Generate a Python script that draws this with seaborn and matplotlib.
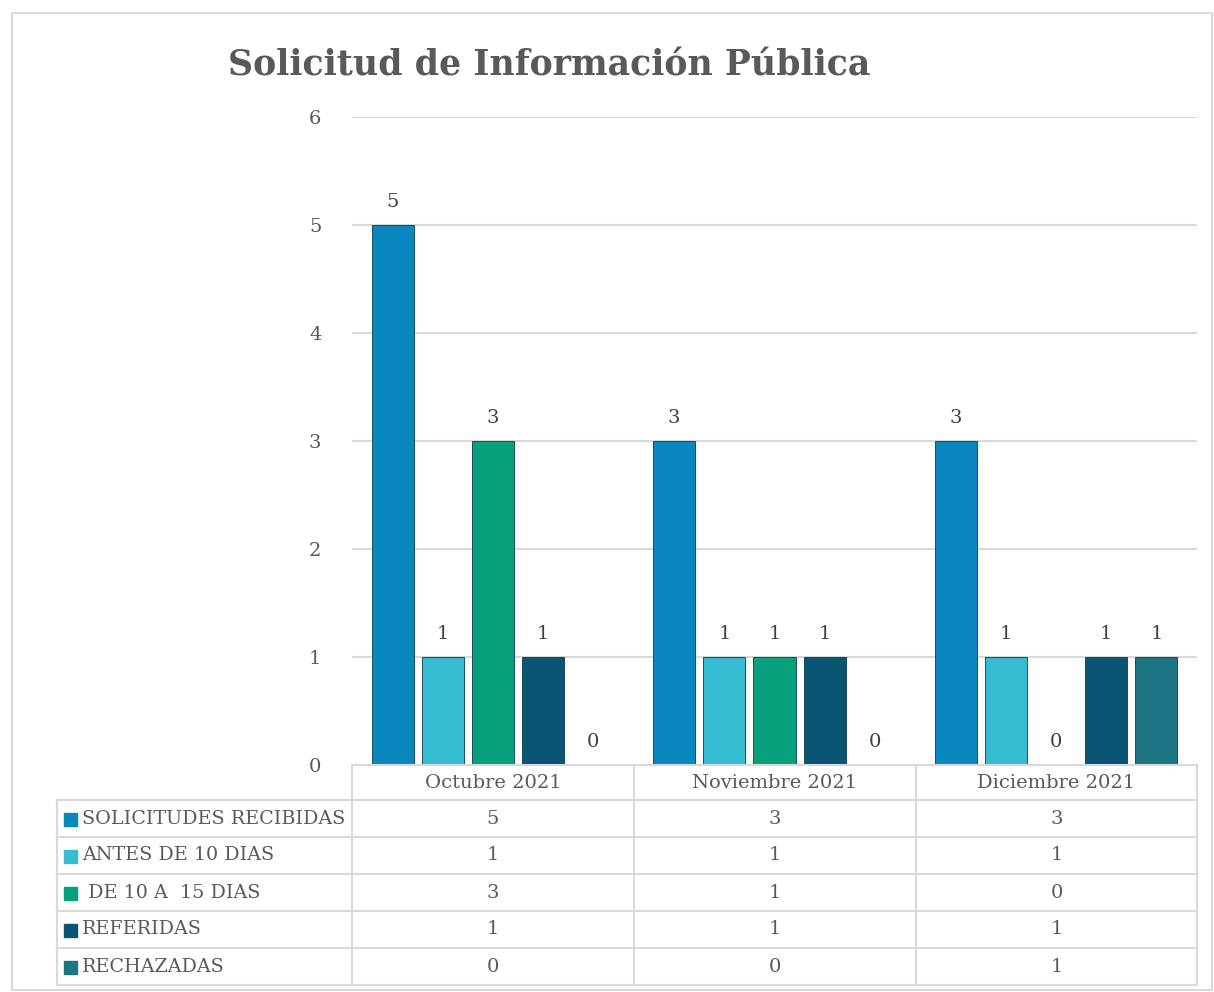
import seaborn as sns
import matplotlib.pyplot as plt
import pandas as pd
from matplotlib.patches import Rectangle

meses = ['Octubre 2021', 'Noviembre 2021', 'Diciembre 2021']
tipos = ['SOLICITUDES RECIBIDAS', 'ANTES DE 10 DIAS', ' DE 10 A  15 DIAS', 'REFERIDAS', 'RECHAZADAS']
recibidas = [5, 3, 3]
antes_10 = [1, 1, 1]
de_10_15 = [3, 1, 0]
referidas = [1, 1, 1]
rechazadas = [0, 0, 1]
colores = ['#0888BE', '#36BCD2', '#06A07C', '#0A5573', '#1D7482']

series = [recibidas, antes_10, de_10_15, referidas, rechazadas]
filas = []
for t, vals in zip(tipos, series):
    for m, v in zip(meses, vals):
        filas.append({'mes': m, 'tipo': t, 'valor': v})
df = pd.DataFrame(filas)

W, H = 1214, 992
fig = plt.figure(figsize=(W / 100, H / 100), dpi=100)
plt.rcParams['font.family'] = ['DejaVu Serif']
gris = '#595959'
linea = '#D9D9D9'


def fx(px):
    return px / W


def fy(py):
    return 1 - py / H


# borde exterior
fig.add_artist(Rectangle((fx(12), fy(990)), fx(1212) - fx(12), fy(13) - fy(990),
                         transform=fig.transFigure, fill=False, ec=linea, lw=1.5))

ax = fig.add_axes([fx(352), fy(765), fx(1197) - fx(352), fy(117) - fy(765)])
sns.barplot(data=df, x='mes', y='valor', hue='tipo', palette=colores, width=0.89,
            gap=0.16, ax=ax, legend=False, saturation=1,
            edgecolor='#0b3a4a', linewidth=0.6)
ax.set_ylim(0, 6)
ax.set_xlim(-0.5, 2.5)
ax.set_yticks(range(7))
ax.yaxis.grid(True, color=linea, lw=1.5)
ax.set_axisbelow(True)
for s in ax.spines.values():
    s.set_visible(False)
ax.tick_params(axis='y', length=0, pad=22, labelsize=14, labelcolor=gris)
ax.tick_params(axis='x', length=0)
ax.set_xticklabels([])
ax.set_xlabel('')
ax.set_ylabel('')
for c in ax.containers:
    ax.bar_label(c, padding=10, fontsize=14, color='#404040')

fig.text(fx(228), fy(65), 'Solicitud de Información Pública', fontsize=25,
         fontweight='bold', color=gris, va='center', ha='left')

# tabla de datos
tx = fig.add_axes([fx(57), fy(985), fx(1197) - fx(57), fy(765) - fy(985)])
tx.set_xlim(57, 1197)
tx.set_ylim(985, 765)
tx.axis('off')
cols = [352, 634, 916, 1197]
filas_y = [765, 800, 837, 874, 911, 948, 985]
kw = dict(color=linea, lw=1.5, clip_on=False)
tx.plot([352, 1197], [765, 765], **kw)
for y in filas_y[1:]:
    tx.plot([57, 1197], [y, y], **kw)
for x in cols:
    tx.plot([x, x], [765, 985], **kw)
tx.plot([57, 57], [800, 985], **kw)

for i, m in enumerate(meses):
    cx = (cols[i] + cols[i + 1]) / 2
    tx.text(cx, (765 + 800) / 2, m, ha='center', va='center', fontsize=14, color=gris)
for j, (t, vals) in enumerate(zip(tipos, series)):
    cy = (filas_y[j + 1] + filas_y[j + 2]) / 2
    tx.add_patch(Rectangle((64, cy - 6), 13, 13, color=colores[j], clip_on=False))
    tx.text(82, cy, t, ha='left', va='center', fontsize=13.8, color=gris)
    for i, v in enumerate(vals):
        cx = (cols[i] + cols[i + 1]) / 2
        tx.text(cx, cy, str(v), ha='center', va='center', fontsize=14, color=gris)

fig.savefig('out.png', dpi=100, facecolor='white')
